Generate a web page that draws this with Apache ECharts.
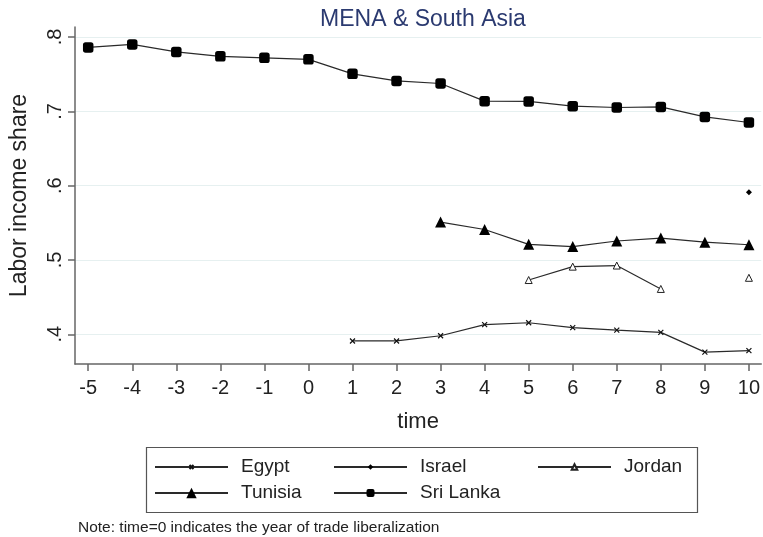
<!DOCTYPE html>
<html>
<head>
<meta charset="utf-8">
<script src="https://cdn.jsdelivr.net/npm/echarts@6/dist/echarts.min.js"></script>
<style>html,body{margin:0;padding:0;background:#fff}#c{width:763px;height:537px}</style>
</head>
<body>
<div id="c"></div>
<script>
var times = [-5,-4,-3,-2,-1,0,1,2,3,4,5,6,7,8,9,10];
var egypt   = [null,null,null,null,null,null,0.391,0.391,0.398,0.413,0.4155,0.409,0.4055,0.4025,0.376,0.378];
var israel  = [null,null,null,null,null,null,null,null,null,null,null,null,null,null,null,0.591];
var jordan  = [null,null,null,null,null,null,null,null,null,null,0.473,0.491,0.4925,0.461,null,0.476];
var tunisia = [null,null,null,null,null,null,null,null,0.551,0.541,0.521,0.518,0.5255,0.5295,0.524,0.5205];
var sriLanka= [0.786,0.790,0.780,0.774,0.772,0.770,0.7505,0.741,0.7375,0.7137,0.7133,0.707,0.7052,0.706,0.6925,0.685];
var yTicks = [0.4,0.5,0.6,0.7,0.8];
var xTicks = times;

function pairs(arr){ return times.map(function(t,i){ return [t, arr[i]==null ? '-' : arr[i]]; }); }

var FONT = '"Liberation Sans", Arial, sans-serif';
var lineCol = '#2a2a2a';
function ser(name, arr, symbol, size, itemStyle){
  return {
    name: name, type: 'line', data: pairs(arr), symbol: symbol, symbolSize: size,
    showAllSymbol: true, connectNulls: false,
    lineStyle: {color: lineCol, width: 1.2},
    itemStyle: itemStyle || {color: '#000', borderColor: '#000', borderWidth: 0},
    emphasis: {disabled: true}, z: 3
  };
}
var xPath = 'path://M0,0L10,10M0,10L10,0';

function lg(name, left, rowC, ih){
  return {
    data: [name], left: left, top: rowC - 8.5, orient: 'horizontal', padding: 0,
    itemWidth: 73, itemHeight: ih, selectedMode: false,
    textStyle: {fontFamily: FONT, fontSize: 19, color: '#222', padding: [0,0,0,8]}
  };
}

var option = {
  animation: false,
  backgroundColor: '#fff',
  title: {
    text: 'MENA & South Asia', left: 418, top: 3, textAlign: 'center',
    textStyle: {fontFamily: FONT, fontSize: 23, fontWeight: 'normal', color: '#2b3a70'}
  },
  grid: {left: 73, right: 0, top: 27, bottom: 173, containLabel: false},
  xAxis: {
    type: 'value', min: -5.3, max: 10.28,
    name: 'time', nameLocation: 'middle', nameGap: 47,
    nameTextStyle: {fontFamily: FONT, fontSize: 22, color: '#222'},
    axisLine: {show: true, onZero: false, lineStyle: {color: '#666', width: 1.5}},
    axisTick: {show: true, length: 7, lineStyle: {color: '#666', width: 1.5}, customValues: xTicks},
    axisLabel: {customValues: xTicks, fontFamily: FONT, fontSize: 20, color: '#222', margin: 14},
    splitLine: {show: false}
  },
  yAxis: {
    type: 'value', min: 0.36, max: 0.8135,
    name: 'Labor income share', nameLocation: 'middle', nameGap: 44,
    nameTextStyle: {fontFamily: FONT, fontSize: 23, color: '#222'},
    axisLine: {show: true, onZero: false, lineStyle: {color: '#666', width: 1.5}},
    axisTick: {show: true, length: 7, lineStyle: {color: '#666', width: 1.5}, customValues: yTicks},
    axisLabel: {customValues: yTicks, rotate: 90, fontFamily: FONT, fontSize: 20, color: '#222', margin: 10,
      formatter: function(v){ return v.toFixed(1).replace(/^0/, ''); }},
    splitLine: {show: true, lineStyle: {color: '#e6f0f0', width: 1.2}}
  },
  legend: [
    lg('Egypt', 154, 466, 5),
    lg('Tunisia', 154, 492, 13),
    lg('Israel', 333, 466, 7),
    lg('Sri Lanka', 333, 492, 10),
    lg('Jordan', 537, 466, 7)
  ],
  graphic: [
    {type: 'rect', left: 144, top: 445, shape: {x: 0, y: 0, width: 551, height: 65},
     style: {fill: 'none', stroke: '#555', lineWidth: 1.2}, silent: true},
    {type: 'text', left: 78, top: 520, style: {text: 'Note: time=0 indicates the year of trade liberalization',
     font: '15.5px "Liberation Sans", Arial, sans-serif', fill: '#222'}, silent: true}
  ],
  series: [
    ser('Egypt', egypt, xPath, 5, {color: '#111', borderColor: '#111', borderWidth: 1.2}),
    ser('Israel', israel, 'diamond', 6),
    ser('Jordan', jordan, 'triangle', 7, {color: '#fff', borderColor: '#222', borderWidth: 1}),
    ser('Tunisia', tunisia, 'triangle', 11),
    ser('Sri Lanka', sriLanka, 'roundRect', 10.5)
  ]
};
var chart = echarts.init(document.getElementById('c'), null, {renderer: 'canvas'});
chart.setOption(option);
</script>
</body>
</html>
